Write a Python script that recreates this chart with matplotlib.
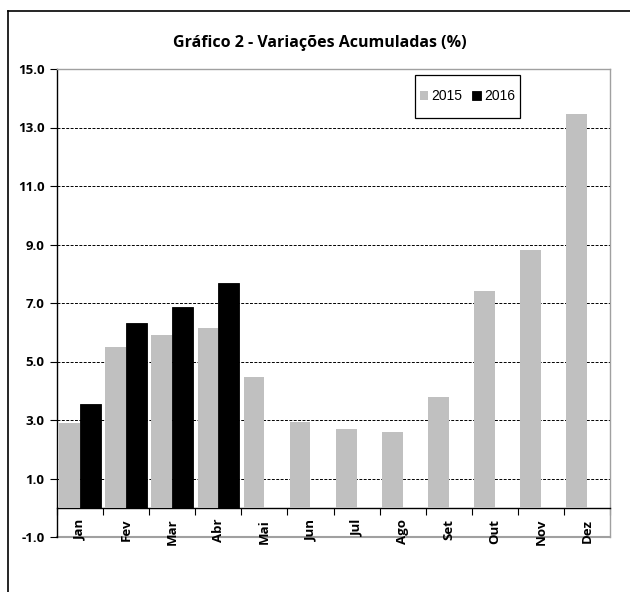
import matplotlib
matplotlib.use("Agg")
import matplotlib.pyplot as plt
from matplotlib.lines import Line2D
from matplotlib.patches import Rectangle
import numpy as np

months = ["Jan", "Fev", "Mar", "Abr", "Mai", "Jun", "Jul", "Ago", "Set", "Out", "Nov", "Dez"]
v2015 = [2.9, 5.5, 5.9, 6.15, 4.48, 2.94, 2.7, 2.6, 3.8, 7.42, 8.82, 13.47]
v2016 = [3.55, 6.32, 6.87, 7.69]
yticks = [-1.0, 1.0, 3.0, 5.0, 7.0, 9.0, 11.0, 13.0, 15.0]
title = "Gráfico 2 - Variações Acumuladas (%)"

W, H = 630, 592
fig = plt.figure(figsize=(6.3, 5.92), dpi=100)
ax = fig.add_axes([57/W, 55/H, 553/W, 468/H])

x = np.arange(len(months))
w = 0.45
ax.bar(x - w/2, v2015, width=w, color="#C0C0C0", label="2015", zorder=3)
ax.bar(x[:len(v2016)] + w/2, v2016, width=w, color="#000000",
       edgecolor="#000000", linewidth=0.6, label="2016", zorder=3)

ax.set_xlim(-0.5, len(months) - 0.5)
ax.set_ylim(-1, 15)
ax.set_yticks(yticks)
ax.set_yticklabels([f"{t:.1f}" for t in yticks], fontfamily="Open Sans",
                   fontweight="bold", fontsize=9.5)
for g in yticks[1:-1]:
    ax.axhline(g, color="black", linestyle=(0, (3, 1.5)), linewidth=0.7, zorder=1)

ax.spines["bottom"].set_position(("data", 0))
ax.spines["bottom"].set_color("black")
ax.spines["bottom"].set_linewidth(1.0)
ax.spines["left"].set_color("black")
ax.spines["left"].set_linewidth(1.0)
for s in ["top", "right"]:
    ax.spines[s].set_color("#A0A0A0")
    ax.spines[s].set_linewidth(1.0)
ax.axhline(-1, color="#A0A0A0", linewidth=1.5, clip_on=False, zorder=0)

ax.set_xticks(x)
ax.set_xticklabels(months, rotation=90, fontfamily="Open Sans",
                   fontweight="bold", fontsize=9.5, va="top")
ax.set_xticks(np.arange(-0.5, len(months) + 0.5, 1), minor=True)
ax.tick_params(axis="x", which="major", length=0, pad=8)
ax.tick_params(axis="x", which="minor", length=5, direction="out", width=0.8)
ax.tick_params(axis="y", length=5, direction="out", width=0.8, pad=4)

fig.text(320/W, 1 - 43/H, title, ha="center", va="center",
         fontfamily="Open Sans", fontweight="bold", fontsize=11.5)

# legend box
bx0, bx1, by0, by1 = 415, 520, 75, 118
fig.add_artist(Rectangle((bx0/W, 1 - by1/H), (bx1-bx0)/W, (by1-by0)/H,
                         transform=fig.transFigure, facecolor="white",
                         edgecolor="black", linewidth=0.9, zorder=5))
leg = fig.legend(loc="center", bbox_to_anchor=((bx0+bx1)/2/W, 1 - (by0+by1)/2/H),
                 ncol=2, frameon=False,
                 handlelength=0.6, handleheight=0.6, handletextpad=0.25,
                 columnspacing=0.7, borderpad=0, borderaxespad=0,
                 prop={"family": "Liberation Sans", "size": 10})
leg.set_zorder(6)

fig.add_artist(Line2D([8/W, 8/W], [0, 1 - 11/H], transform=fig.transFigure,
                      color="black", linewidth=1.2))
fig.add_artist(Line2D([8/W, 1], [1 - 11/H, 1 - 11/H], transform=fig.transFigure,
                      color="black", linewidth=1.2))

fig.savefig("out.png", dpi=100, facecolor="white")
